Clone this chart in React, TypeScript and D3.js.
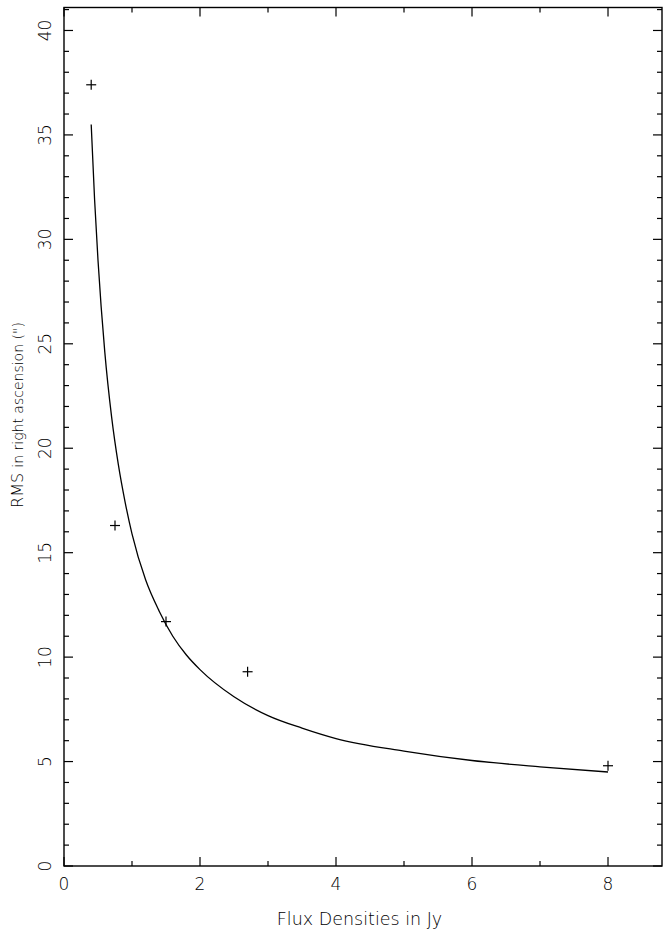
import React, { useEffect, useRef } from "react";
import * as d3 from "d3";

// measured points (flux density in Jy, rms in arcsec)
const fluxPoints = [0.4, 0.75, 1.5, 2.7, 8.0];
const rmsPoints = [37.4, 16.3, 11.7, 9.3, 4.8];

// fitted curve
const curveFlux = [0.4, 0.45, 0.5, 0.6, 0.7, 0.8, 0.9, 1.0, 1.2, 1.4, 1.6, 1.8, 2.0, 2.5, 3.0, 3.5, 4.0, 5.0, 6.0, 7.0, 8.0];
const curveRms = [35.5, 31.9, 29.0, 24.6, 21.5, 19.2, 17.4, 15.9, 13.7, 12.2, 11.0, 10.1, 9.4, 8.1, 7.2, 6.6, 6.1, 5.5, 5.05, 4.75, 4.5];

const xTickLabels = [0, 2, 4, 6, 8];
const yTickLabels = [0, 5, 10, 15, 20, 25, 30, 35, 40];

export default function App() {
  const svgRef = useRef<SVGSVGElement>(null);

  useEffect(() => {
    const svg = d3.select(svgRef.current);
    svg.selectAll("*").remove();

    const left = 64;
    const right = 662;
    const top = 7.5;
    const bottom = 866;

    const x = d3.scaleLinear().domain([0, 8.794]).range([left, right]);
    const y = d3.scaleLinear().domain([0, 41.1]).range([bottom, top]);

    const g = svg.append("g").attr("stroke", "#000").attr("fill", "none");

    // --- FRAME ---
    g.append("rect")
      .attr("x", left)
      .attr("y", top)
      .attr("width", right - left)
      .attr("height", bottom - top)
      .attr("stroke-width", 1.4);

    // --- TICKS (inward, all four sides) ---
    const xMinor = d3.range(0, 9, 1);
    const yMinor = d3.range(0, 42, 1);
    const ticks = g.append("g").attr("stroke-width", 1.2);

    xMinor.forEach((v) => {
      const len = v % 2 === 0 ? 9 : 5;
      const px = x(v);
      ticks.append("line").attr("x1", px).attr("x2", px).attr("y1", bottom).attr("y2", bottom - len);
      ticks.append("line").attr("x1", px).attr("x2", px).attr("y1", top).attr("y2", top + len);
    });
    yMinor.forEach((v) => {
      const len = v % 5 === 0 ? 9 : 5;
      const py = y(v);
      ticks.append("line").attr("x1", left).attr("x2", left + len).attr("y1", py).attr("y2", py);
      ticks.append("line").attr("x1", right).attr("x2", right - len).attr("y1", py).attr("y2", py);
    });

    const font = "'DejaVu Sans', sans-serif";

    // --- TICK LABELS ---
    svg
      .append("g")
      .selectAll("text")
      .data(xTickLabels)
      .join("text")
      .attr("x", (d) => x(d))
      .attr("y", 890)
      .attr("text-anchor", "middle")
      .attr("fill", "#000")
      .style("font-family", font)
      .style("font-weight", "200")
      .style("font-size", "17px")
      .text((d) => d);

    svg
      .append("g")
      .selectAll("text")
      .data(yTickLabels)
      .join("text")
      .attr("transform", (d) => `translate(51,${y(d)}) rotate(-90)`)
      .attr("text-anchor", "middle")
      .attr("fill", "#000")
      .style("font-family", font)
      .style("font-weight", "200")
      .style("font-size", "17px")
      .text((d) => d);

    // --- AXIS TITLES ---
    svg
      .append("text")
      .attr("x", 359.5)
      .attr("y", 925)
      .attr("text-anchor", "middle")
      .attr("fill", "#000")
      .style("font-family", font)
      .style("font-weight", "200")
      .style("font-size", "17.5px")
      .text("Flux Densities in Jy");

    const yt = svg
      .append("text")
      .attr("transform", "translate(23,415) rotate(-90)")
      .attr("text-anchor", "middle")
      .attr("fill", "#000")
      .style("font-family", font)
      .style("font-weight", "200");
    yt.append("tspan").style("font-size", "16px").text("RMS  ");
    yt.append("tspan").style("font-size", "14px").text('in right ascension (")');

    // --- FIT CURVE ---
    const line = d3
      .line<number>()
      .x((d) => x(d))
      .y((_, i) => y(curveRms[i]))
      .curve(d3.curveMonotoneX);

    g.append("path").attr("d", line(curveFlux)).attr("stroke-width", 1.3);

    // --- DATA POINTS (plus markers) ---
    const s = 5;
    const pts = g.append("g").attr("stroke-width", 1.2);
    fluxPoints.forEach((f, i) => {
      const px = x(f);
      const py = y(rmsPoints[i]);
      pts.append("line").attr("x1", px - s).attr("x2", px + s).attr("y1", py).attr("y2", py);
      pts.append("line").attr("x1", px).attr("x2", px).attr("y1", py - s).attr("y2", py + s);
    });
  }, []);

  return (
    <svg
      ref={svgRef}
      width="672"
      height="937"
      style={{ position: "absolute", left: 0, top: 0, background: "#fff" }}
    ></svg>
  );
}
